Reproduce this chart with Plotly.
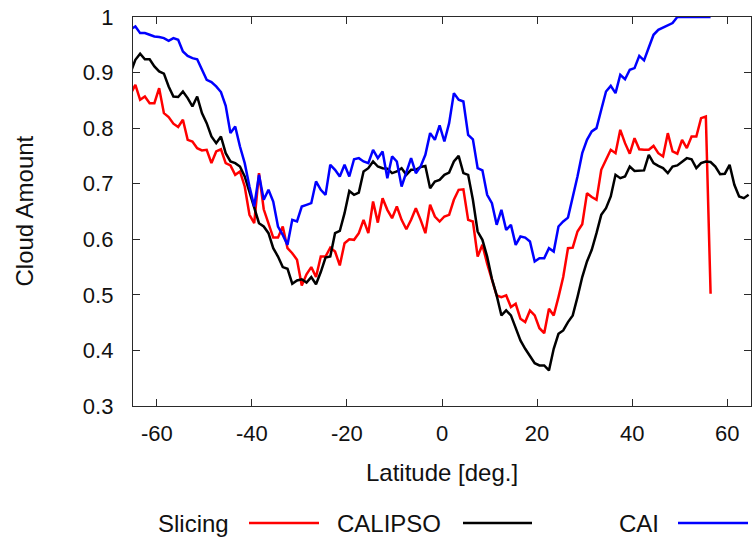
import plotly.graph_objects as go

# Latitude grid (bin centres, degrees)
lat = [-65.5 + i for i in range(131)]

# Slicing (red) - ends at 56.5
slicing = [
    0.862, 0.878, 0.851, 0.857, 0.845, 0.845, 0.872, 0.827, 0.820, 0.808,
    0.802, 0.815, 0.779, 0.776, 0.764, 0.760, 0.761, 0.737, 0.758, 0.762,
    0.737, 0.733, 0.716, 0.722, 0.695, 0.644, 0.629, 0.719, 0.654, 0.629,
    0.603, 0.603, 0.623, 0.584, 0.575, 0.563, 0.517, 0.537, 0.550, 0.532,
    0.569, 0.569, 0.585, 0.578, 0.553, 0.593, 0.600, 0.599, 0.611, 0.635,
    0.611, 0.668, 0.630, 0.674, 0.653, 0.638, 0.659, 0.635, 0.618, 0.635,
    0.656, 0.635, 0.611, 0.662, 0.641, 0.632,
    0.641, 0.644, 0.671, 0.689, 0.690, 0.635, 0.632, 0.569, 0.590, 0.556,
    0.526, 0.499, 0.496, 0.499, 0.478, 0.484, 0.457, 0.451, 0.472, 0.463,
    0.440, 0.431, 0.475, 0.463, 0.496, 0.532, 0.584, 0.585, 0.614, 0.627,
    0.683, 0.676, 0.671, 0.725, 0.743, 0.761, 0.755, 0.797, 0.773, 0.754,
    0.782, 0.762, 0.761, 0.761, 0.768, 0.755, 0.749, 0.791, 0.758, 0.754,
    0.779, 0.764, 0.785, 0.785, 0.818, 0.821, 0.502,
]

# CALIPSO (black) - full range
calipso = [
    0.900, 0.923, 0.934, 0.924, 0.924, 0.911, 0.902, 0.898, 0.875, 0.857,
    0.856, 0.866, 0.854, 0.839, 0.857, 0.827, 0.809, 0.785, 0.773, 0.785,
    0.755, 0.740, 0.737, 0.731, 0.713, 0.686, 0.659, 0.629, 0.623, 0.611,
    0.584, 0.569, 0.550, 0.547, 0.520, 0.526, 0.528, 0.522, 0.532, 0.519,
    0.541, 0.567, 0.569, 0.611, 0.615, 0.647, 0.687, 0.680, 0.684, 0.722,
    0.728, 0.740, 0.731, 0.728, 0.727, 0.719, 0.722, 0.728, 0.716, 0.725,
    0.725, 0.730, 0.732, 0.692, 0.704, 0.707,
    0.716, 0.720, 0.740, 0.750, 0.719, 0.716, 0.671, 0.614, 0.599, 0.569,
    0.529, 0.499, 0.463, 0.472, 0.463, 0.442, 0.418, 0.403, 0.391, 0.377,
    0.373, 0.373, 0.364, 0.403, 0.430, 0.436, 0.451, 0.463, 0.496, 0.532,
    0.560, 0.581, 0.611, 0.644, 0.656, 0.677, 0.716, 0.710, 0.713, 0.731,
    0.723, 0.723, 0.724, 0.752, 0.737, 0.732, 0.728, 0.719, 0.731, 0.733,
    0.740, 0.746, 0.744, 0.728, 0.737, 0.740, 0.739, 0.731, 0.717, 0.718,
    0.734, 0.698, 0.677, 0.674, 0.680,
]

# CAI (blue) - ends at 56.5
cai = [
    0.978, 0.983, 0.971, 0.971, 0.968, 0.965, 0.964, 0.962, 0.957, 0.962,
    0.959, 0.938, 0.930, 0.926, 0.924, 0.905, 0.887, 0.883, 0.875, 0.865,
    0.840, 0.791, 0.803, 0.767, 0.737, 0.695, 0.659, 0.716, 0.671, 0.689,
    0.668, 0.623, 0.608, 0.590, 0.635, 0.632, 0.659, 0.662, 0.665, 0.704,
    0.689, 0.680, 0.734, 0.725, 0.713, 0.734, 0.713, 0.744, 0.746, 0.740,
    0.737, 0.761, 0.746, 0.758, 0.710, 0.749, 0.740, 0.695, 0.719, 0.746,
    0.719, 0.731, 0.752, 0.791, 0.779, 0.805,
    0.776, 0.809, 0.863, 0.851, 0.848, 0.788, 0.780, 0.728, 0.724, 0.680,
    0.665, 0.626, 0.653, 0.617, 0.626, 0.590, 0.605, 0.603, 0.596, 0.560,
    0.566, 0.566, 0.584, 0.578, 0.623, 0.632, 0.639, 0.674, 0.713, 0.755,
    0.779, 0.794, 0.800, 0.833, 0.866, 0.876, 0.863, 0.896, 0.888, 0.905,
    0.908, 0.930, 0.922, 0.945, 0.968, 0.977, 0.981, 0.985, 0.989, 1.000,
    1.000, 1.000, 1.000, 1.000, 1.000, 1.000, 1.000,
]

series_names = ["Slicing", "CALIPSO", "CAI"]
series_colors = ["#ff0000", "#000000", "#0000ff"]
x_tickvals = [-60, -40, -20, 0, 20, 40, 60]
x_ticktext = ["-60", "-40", "-20", "0", "20", "40", "60"]
y_tickvals = [0.3, 0.4, 0.5, 0.6, 0.7, 0.8, 0.9, 1.0]
y_ticktext = ["0.3", "0.4", "0.5", "0.6", "0.7", "0.8", "0.9", "1"]

FONT = "Liberation Sans, Arial, sans-serif"
TXT = "#111"

fig = go.Figure()
for name, vals, col in zip(series_names, [slicing, calipso, cai], series_colors):
    fig.add_trace(go.Scatter(
        x=lat[:len(vals)], y=vals, mode="lines", name=name,
        line=dict(color=col, width=2.5), showlegend=False,
    ))

axis_common = dict(
    showline=True, mirror="ticks", linecolor="#2a2a2a", linewidth=1.4,
    ticks="inside", ticklen=7, tickwidth=1.3, tickcolor="#2a2a2a",
    showgrid=False, zeroline=False,
    tickfont=dict(family=FONT, size=22, color=TXT),
)

L, R, T, B = 133, 1, 17, 139
W, H = 752, 545
pw, ph = W - L - R, H - T - B

fig.update_layout(
    width=W, height=H,
    margin=dict(l=L, r=R, t=T, b=B),
    paper_bgcolor="white", plot_bgcolor="white",
    font=dict(family=FONT, size=24, color=TXT),
    xaxis=dict(range=[-65, 65], tickvals=x_tickvals, ticktext=x_ticktext,
               ticklabelstandoff=7, **axis_common),
    yaxis=dict(range=[0.3, 1.0], tickvals=y_tickvals, ticktext=y_ticktext,
               ticklabelstandoff=14, **axis_common),
)

# axis titles
fig.add_annotation(text="Latitude [deg.]", xref="paper", yref="paper", x=0.5, y=0,
                   xanchor="center", yanchor="middle", yshift=-66, showarrow=False,
                   font=dict(family=FONT, size=24, color=TXT))
fig.add_annotation(text="Cloud Amount", xref="paper", yref="paper", x=0, y=0.5,
                   xanchor="center", yanchor="middle", xshift=-109, textangle=-90,
                   showarrow=False, font=dict(family=FONT, size=24, color=TXT))

# legend (text then line sample, gnuplot style)
leg_py = 523
leg_y = (H - B - leg_py) / ph
leg_text_center = [193, 389, 639]
leg_line_x = [(249, 319), (463, 532), (678, 748)]
for name, col, tc, (x0, x1) in zip(series_names, series_colors, leg_text_center, leg_line_x):
    fig.add_annotation(text=name, xref="paper", yref="paper",
                       x=(tc - L) / pw, y=leg_y, xanchor="center", yanchor="middle",
                       showarrow=False, font=dict(family=FONT, size=24, color=TXT))
    fig.add_shape(type="line", xref="paper", yref="paper",
                  x0=(x0 - L) / pw, x1=(x1 - L) / pw, y0=leg_y, y1=leg_y,
                  line=dict(color=col, width=2.5))

fig.write_html("out.html")
